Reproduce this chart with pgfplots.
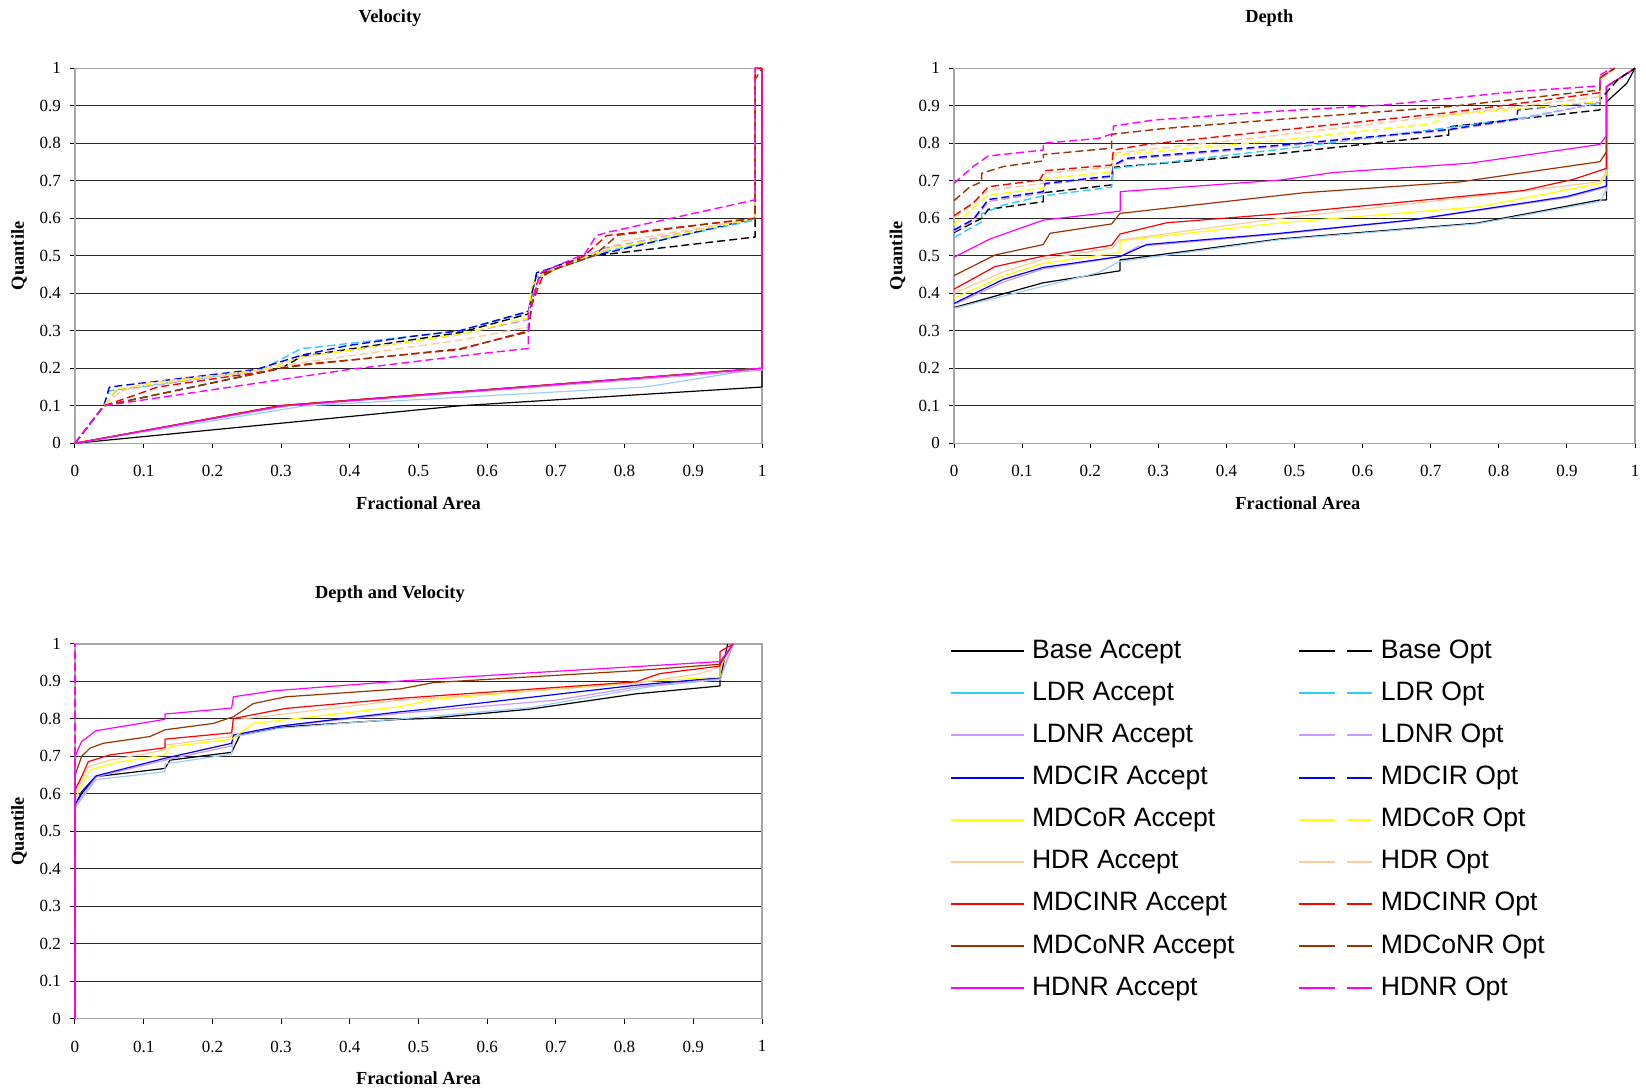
\documentclass[border=0pt]{standalone}
\usepackage{pgfplots}
\pgfplotsset{compat=1.18}
\usepackage{fontspec}
\setmainfont{Liberation Serif}
\newfontfamily\legfont{Liberation Sans}
\definecolor{cBase}{RGB}{0,0,0}
\definecolor{cLDR}{RGB}{51,204,255}
\definecolor{cLDRa}{RGB}{153,204,255}
\definecolor{cLDNR}{RGB}{204,153,255}
\definecolor{cMDCIR}{RGB}{0,0,255}
\definecolor{cMDCoR}{RGB}{255,255,0}
\definecolor{cHDR}{RGB}{255,204,153}
\definecolor{cMDCINR}{RGB}{255,0,0}
\definecolor{cMDCoNR}{RGB}{153,51,0}
\definecolor{cHDNR}{RGB}{255,0,255}
\pgfplotsset{
  qaxis/.style={scale only axis, xmin=0, xmax=1, ymin=0, ymax=1, clip=false,
    xtick={0,0.1,0.2,0.3,0.4,0.5,0.6,0.7,0.8,0.9,1},
    ytick={0,0.1,0.2,0.3,0.4,0.5,0.6,0.7,0.8,0.9,1},
    axis x line*=bottom, axis y line*=left,
    axis line style={-, black, line width=0.6pt},
    ymajorgrids, grid style={black!85, line width=0.5pt},
    tick align=outside, major tick length=2.5pt,
    tick style={black, line width=0.5pt},
    /pgf/number format/fixed, /pgf/number format/precision=1,
    /pgf/number format/assume math mode=true,
    ticklabel style={font=\fontsize{8.5}{10}\selectfont},
    xticklabel style={yshift=-5pt},
    yticklabel style={xshift=-1pt},
    title style={font=\bfseries\fontsize{9.2}{11}\selectfont, anchor=center, yshift=-6pt},
    xlabel style={font=\bfseries\fontsize{9.2}{11}\selectfont, at={(axis description cs:0.5,-0.1587)}, anchor=center},
    ylabel style={font=\bfseries\fontsize{9.2}{11}\selectfont, at={(axis description cs:-0.0815,0.5)}, anchor=center},
    xlabel={Fractional Area}, ylabel={Quantile},
  },
  acc/.style={line width=0.6pt, line join=round},
  opt/.style={line width=0.7pt, dash pattern=on 4pt off 2pt, line join=round},
}
\begin{document}
\begin{tikzpicture}
\useasboundingbox (0,0) rectangle (823pt,545.5pt);
% ---------------- Velocity ----------------
\begin{axis}[qaxis, at={(37.5pt,323.85pt)}, anchor=south west, width=343.5pt, height=187.5pt,
  title={Velocity}, title style={at={(axis description cs:0.4585,1.135)}}]
\draw[gray!70, line width=0.6pt] (rel axis cs:0,0) rectangle (rel axis cs:1,1);
% Accept
\addplot[acc, cBase] coordinates {(0,0) (0.56,0.10) (1,0.15) (1,0.2) (1,1)};
\addplot[acc, cLDRa] coordinates {(0,0) (0.335,0.10) (0.83,0.15) (1,0.2) (1,1)};
\addplot[acc, cLDNR] coordinates {(0,0) (0.31,0.10) (1,0.195) (1,1)};
\addplot[acc, cMDCIR] coordinates {(0,0) (0.30,0.10) (1,0.2) (1,1)};
\addplot[acc, cMDCoR] coordinates {(0,0) (0.30,0.10) (1,0.2) (1,1)};
\addplot[acc, cHDR] coordinates {(0,0) (0.30,0.10) (1,0.2) (1,1)};
\addplot[acc, cMDCINR] coordinates {(0,0) (0.30,0.101) (1,0.2) (1,1)};
\addplot[acc, cMDCoNR] coordinates {(0,0) (0.30,0.10) (1,0.2) (1,1)};
\addplot[acc, cHDNR] coordinates {(0,0) (0.30,0.099) (1,0.2) (1,1)};
% Opt
\addplot[opt, cBase] coordinates {(0,0) (0.042,0.1) (0.30,0.2) (0.33,0.232) (0.56,0.295) (0.66,0.345) (0.665,0.40) (0.672,0.45) (0.70,0.465) (0.755,0.50) (0.99,0.55) (0.99,1) (1,1)};
\addplot[opt, cLDR] coordinates {(0,0) (0.042,0.1) (0.05,0.14) (0.27,0.195) (0.33,0.253) (0.35,0.256) (0.56,0.30) (0.66,0.35) (0.67,0.44) (0.70,0.465) (0.755,0.50) (0.78,0.515) (0.99,0.595) (0.99,1) (1,1)};
\addplot[opt, cLDNR] coordinates {(0,0) (0.042,0.1) (0.06,0.14) (0.27,0.195) (0.33,0.23) (0.56,0.29) (0.66,0.33) (0.665,0.42) (0.68,0.45) (0.72,0.48) (0.77,0.52) (0.99,0.6) (0.99,1) (1,1)};
\addplot[opt, cMDCIR] coordinates {(0,0) (0.042,0.1) (0.05,0.15) (0.264,0.197) (0.33,0.235) (0.395,0.26) (0.49,0.285) (0.56,0.30) (0.66,0.352) (0.665,0.40) (0.672,0.455) (0.69,0.465) (0.716,0.483) (0.755,0.50) (0.99,0.60) (0.99,1) (1,1)};
\addplot[opt, cMDCoR] coordinates {(0,0) (0.042,0.1) (0.06,0.145) (0.27,0.195) (0.33,0.23) (0.56,0.29) (0.66,0.335) (0.665,0.42) (0.68,0.45) (0.72,0.48) (0.77,0.515) (0.99,0.6) (0.99,1) (1,1)};
\addplot[opt, cHDR] coordinates {(0,0) (0.042,0.1) (0.065,0.137) (0.10,0.16) (0.27,0.195) (0.33,0.215) (0.56,0.275) (0.66,0.31) (0.665,0.38) (0.675,0.44) (0.70,0.465) (0.755,0.50) (0.80,0.54) (0.99,0.6) (0.99,1) (1,1)};
\addplot[opt, cMDCINR] coordinates {(0,0) (0.042,0.1) (0.09,0.13) (0.12,0.15) (0.27,0.19) (0.30,0.2) (0.33,0.21) (0.56,0.25) (0.66,0.30) (0.665,0.37) (0.682,0.452) (0.70,0.465) (0.741,0.50) (0.774,0.554) (0.99,0.6) (0.99,1) (1,1)};
\addplot[opt, cMDCoNR] coordinates {(0,0) (0.042,0.1) (0.30,0.2) (0.34,0.21) (0.56,0.252) (0.66,0.297) (0.665,0.37) (0.675,0.44) (0.70,0.465) (0.755,0.50) (0.79,0.555) (0.99,0.60) (0.99,0.97) (1,1)};
\addplot[opt, cHDNR] coordinates {(0,0) (0.042,0.1) (0.40,0.197) (0.59,0.239) (0.66,0.253) (0.66,0.346) (0.672,0.425) (0.679,0.456) (0.742,0.505) (0.759,0.554) (0.776,0.563) (0.99,0.649) (0.99,1) (1,1)};
\end{axis}
% ---------------- Depth ----------------
\begin{axis}[qaxis, at={(477pt,323.85pt)}, anchor=south west, width=340.5pt, height=187.5pt,
  title={Depth}, title style={at={(axis description cs:0.463,1.135)}},
  xlabel style={at={(axis description cs:0.505,-0.1587)}},
  ylabel style={at={(axis description cs:-0.083,0.5)}}]
\draw[gray!70, line width=0.6pt] (rel axis cs:0,0) rectangle (rel axis cs:1,1);
% Accept
\addplot[acc, cBase] coordinates {(0,0.362) (0.131,0.428) (0.2437,0.46) (0.2437,0.489) (0.479,0.545) (0.7676,0.587) (0.9486,0.649) (0.958,0.649) (0.958,0.91) (0.988,0.96) (1,1)};
\addplot[acc, cLDRa] coordinates {(0,0.36) (0.2119,0.455) (0.2437,0.485) (0.479,0.543) (0.7676,0.585) (0.9486,0.645) (0.958,0.675) (0.958,0.951) (1,1)};
\addplot[acc, cLDNR] coordinates {(0,0.37) (0.0724,0.43) (0.131,0.465) (0.2437,0.497) (0.27,0.525) (0.479,0.558) (0.67,0.594) (0.8997,0.655) (0.958,0.683) (0.958,0.951) (1,1)};
\addplot[acc, cMDCIR] coordinates {(0,0.373) (0.0724,0.437) (0.131,0.469) (0.2437,0.498) (0.283,0.53) (0.479,0.56) (0.67,0.595) (0.8997,0.658) (0.958,0.686) (0.958,0.951) (1,1)};
\addplot[acc, cMDCoR] coordinates {(0,0.387) (0.0724,0.446) (0.131,0.48) (0.2437,0.509) (0.2437,0.54) (0.479,0.588) (0.772,0.631) (0.9486,0.693) (0.958,0.716) (0.958,0.951) (1,1)};
\addplot[acc, cHDR] coordinates {(0,0.40) (0.0724,0.457) (0.131,0.491) (0.2315,0.52) (0.2437,0.542) (0.479,0.60) (0.843,0.674) (0.9486,0.698) (0.958,0.724) (0.958,0.951) (1,1)};
\addplot[acc, cMDCINR] coordinates {(0,0.411) (0.06,0.471) (0.131,0.499) (0.2315,0.528) (0.2437,0.558) (0.3123,0.588) (0.479,0.612) (0.836,0.674) (0.9097,0.704) (0.958,0.733) (0.958,0.951) (1,1)};
\addplot[acc, cMDCoNR] coordinates {(0,0.447) (0.06,0.502) (0.131,0.53) (0.141,0.56) (0.2315,0.585) (0.2437,0.613) (0.513,0.668) (0.743,0.697) (0.9486,0.751) (0.958,0.777) (0.958,0.951) (1,1)};
\addplot[acc, cHDNR] coordinates {(0,0.496) (0.053,0.545) (0.131,0.595) (0.244,0.619) (0.244,0.671) (0.479,0.702) (0.557,0.722) (0.758,0.747) (0.9486,0.797) (0.958,0.82) (0.958,0.951) (1,1)};
% Opt
\addplot[opt, cBase] coordinates {(0,0.562) (0.0406,0.60) (0.0504,0.624) (0.131,0.644) (0.131,0.668) (0.2315,0.689) (0.234,0.736) (0.479,0.773) (0.7265,0.822) (0.7265,0.844) (0.9486,0.889) (0.9486,0.916) (0.975,0.97) (1,1)};
\addplot[opt, cLDR] coordinates {(0,0.549) (0.0406,0.59) (0.0406,0.612) (0.0724,0.635) (0.131,0.66) (0.2315,0.683) (0.234,0.733) (0.479,0.784) (0.7185,0.84) (0.826,0.865) (0.9486,0.907) (0.9486,0.97) (0.97,1)};
\addplot[opt, cLDNR] coordinates {(0,0.565) (0.0284,0.593) (0.0504,0.645) (0.131,0.667) (0.1336,0.69) (0.2315,0.71) (0.234,0.738) (0.2535,0.757) (0.479,0.792) (0.728,0.835) (0.826,0.862) (0.9486,0.909) (0.9486,0.97) (0.97,1)};
\addplot[opt, cMDCIR] coordinates {(0,0.569) (0.0284,0.597) (0.0504,0.65) (0.131,0.671) (0.1336,0.693) (0.2315,0.713) (0.234,0.742) (0.2535,0.76) (0.479,0.795) (0.728,0.837) (0.826,0.865) (0.828,0.889) (0.9486,0.911) (0.9486,0.97) (0.97,1)};
\addplot[opt, cMDCoR] coordinates {(0,0.583) (0.0504,0.662) (0.131,0.68) (0.1336,0.706) (0.234,0.724) (0.234,0.768) (0.479,0.808) (0.704,0.853) (0.723,0.875) (0.9486,0.911) (0.9486,0.97) (0.97,1)};
\addplot[opt, cHDR] coordinates {(0,0.60) (0.0504,0.675) (0.131,0.693) (0.1336,0.72) (0.2315,0.736) (0.234,0.773) (0.479,0.822) (0.9486,0.924) (0.9486,0.97) (0.97,1)};
\addplot[opt, cMDCINR] coordinates {(0,0.607) (0.028,0.64) (0.0504,0.684) (0.126,0.702) (0.1336,0.727) (0.2315,0.742) (0.234,0.782) (0.283,0.797) (0.479,0.835) (0.728,0.882) (0.9486,0.935) (0.9486,0.975) (0.97,1)};
\addplot[opt, cMDCoNR] coordinates {(0,0.647) (0.0235,0.684) (0.0406,0.697) (0.0406,0.72) (0.0724,0.738) (0.131,0.753) (0.131,0.77) (0.2315,0.787) (0.2315,0.824) (0.3123,0.84) (0.479,0.864) (0.728,0.898) (0.9486,0.942) (0.9486,0.975) (0.97,1)};
\addplot[opt, cHDNR] coordinates {(0,0.693) (0.028,0.738) (0.0504,0.766) (0.131,0.782) (0.131,0.80) (0.2119,0.813) (0.234,0.826) (0.234,0.846) (0.293,0.862) (0.479,0.886) (0.6304,0.902) (0.826,0.938) (0.9486,0.953) (0.9486,0.982) (0.965,1)};
\end{axis}
% ---------------- Depth and Velocity ----------------
\begin{axis}[qaxis, at={(37.5pt,36.15pt)}, anchor=south west, width=343.5pt, height=187.35pt,
  title={Depth and Velocity}, title style={at={(axis description cs:0.4585,1.134)}},
  xlabel style={at={(axis description cs:0.5,-0.158)}}]
\draw[gray!70, line width=0.6pt] (rel axis cs:0,0) rectangle (rel axis cs:1,1);
\addplot[acc, cBase] coordinates {(0,0) (0,0.566) (0.0097,0.601) (0.0306,0.646) (0.131,0.668) (0.1383,0.69) (0.228,0.711) (0.2402,0.757) (0.298,0.778) (0.473,0.799) (0.512,0.801) (0.662,0.826) (0.817,0.867) (0.939,0.888) (0.939,0.904) (0.95,1)};
\addplot[acc, cLDRa] coordinates {(0,0) (0,0.563) (0.0306,0.638) (0.131,0.659) (0.131,0.68) (0.228,0.706) (0.2305,0.752) (0.298,0.775) (0.473,0.80) (0.662,0.83) (0.843,0.888) (0.939,0.905) (0.958,1)};
\addplot[acc, cLDNR] coordinates {(0,0) (0,0.568) (0.0306,0.645) (0.131,0.69) (0.228,0.728) (0.2305,0.755) (0.298,0.78) (0.473,0.815) (0.70,0.85) (0.817,0.885) (0.939,0.908) (0.958,1)};
\addplot[acc, cMDCIR] coordinates {(0,0) (0,0.57) (0.0097,0.606) (0.0306,0.648) (0.131,0.695) (0.228,0.735) (0.2305,0.757) (0.298,0.781) (0.473,0.819) (0.512,0.826) (0.817,0.89) (0.939,0.91) (0.939,0.95) (0.958,1)};
\addplot[acc, cMDCoR] coordinates {(0,0) (0,0.587) (0.0218,0.664) (0.0606,0.684) (0.131,0.704) (0.1383,0.726) (0.228,0.746) (0.2596,0.788) (0.473,0.833) (0.5216,0.852) (0.817,0.899) (0.939,0.912) (0.939,0.939) (0.958,1)};
\addplot[acc, cHDR] coordinates {(0,0) (0,0.60) (0.0194,0.673) (0.051,0.69) (0.131,0.717) (0.131,0.73) (0.228,0.753) (0.2305,0.797) (0.473,0.85) (0.817,0.895) (0.9097,0.921) (0.939,0.939) (0.958,1)};
\addplot[acc, cMDCINR] coordinates {(0,0) (0,0.61) (0.0097,0.646) (0.0194,0.686) (0.0509,0.704) (0.131,0.723) (0.131,0.746) (0.228,0.763) (0.2305,0.801) (0.3065,0.828) (0.473,0.855) (0.817,0.899) (0.851,0.921) (0.939,0.941) (0.939,0.98) (0.958,1)};
\addplot[acc, cMDCoNR] coordinates {(0,0) (0,0.65) (0.0097,0.70) (0.0218,0.722) (0.0412,0.735) (0.109,0.753) (0.131,0.771) (0.2013,0.788) (0.2305,0.806) (0.2596,0.841) (0.3065,0.859) (0.473,0.880) (0.5216,0.897) (0.817,0.929) (0.939,0.946) (0.958,1)};
\addplot[acc, cHDNR] coordinates {(0,0) (0,0.70) (0.0097,0.74) (0.0306,0.7685) (0.131,0.799) (0.131,0.813) (0.228,0.829) (0.2305,0.859) (0.2887,0.875) (0.473,0.901) (0.662,0.923) (0.939,0.953) (0.958,1)};
\addplot[opt, cHDNR] coordinates {(0,0) (0,1)};
\end{axis}
% ---------------- Legend ----------------
\begin{axis}[at={(0pt,0pt)}, anchor=south west, scale only axis, width=100pt, height=100pt,
  hide axis, xmin=0, xmax=1, ymin=0, ymax=1,
  legend columns=2,
  legend image code/.code={\draw[#1] (0pt,0pt) -- (36.3pt,0pt);},
  legend style={at={(axis description cs:4.75,2.286)}, anchor=north west, draw=none, fill=none,
    inner sep=0pt, row sep=4.06pt, column sep=0pt,
    font=\legfont\fontsize{13.3}{15}\selectfont,
    nodes={inner sep=2pt, text height=10pt, text depth=3pt}},
  legend cell align=left]
\addlegendimage{black, line width=1pt}
\addlegendentry{\makebox[132.6pt][l]{\hspace*{1.5pt}Base Accept}}
\addlegendimage{black, line width=1pt, dash pattern=on 17.9pt off 6.2pt}
\addlegendentry{\hspace*{2pt}Base Opt}
\addlegendimage{cLDR, line width=1pt}
\addlegendentry{\makebox[132.6pt][l]{\hspace*{1.5pt}LDR Accept}}
\addlegendimage{cLDR, line width=1pt, dash pattern=on 17.9pt off 6.2pt}
\addlegendentry{\hspace*{2pt}LDR Opt}
\addlegendimage{cLDNR, line width=1pt}
\addlegendentry{\makebox[132.6pt][l]{\hspace*{1.5pt}LDNR Accept}}
\addlegendimage{cLDNR, line width=1pt, dash pattern=on 17.9pt off 6.2pt}
\addlegendentry{\hspace*{2pt}LDNR Opt}
\addlegendimage{cMDCIR, line width=1pt}
\addlegendentry{\makebox[132.6pt][l]{\hspace*{1.5pt}MDCIR Accept}}
\addlegendimage{cMDCIR, line width=1pt, dash pattern=on 17.9pt off 6.2pt}
\addlegendentry{\hspace*{2pt}MDCIR Opt}
\addlegendimage{cMDCoR, line width=1pt}
\addlegendentry{\makebox[132.6pt][l]{\hspace*{1.5pt}MDCoR Accept}}
\addlegendimage{cMDCoR, line width=1pt, dash pattern=on 17.9pt off 6.2pt}
\addlegendentry{\hspace*{2pt}MDCoR Opt}
\addlegendimage{cHDR, line width=1pt}
\addlegendentry{\makebox[132.6pt][l]{\hspace*{1.5pt}HDR Accept}}
\addlegendimage{cHDR, line width=1pt, dash pattern=on 17.9pt off 6.2pt}
\addlegendentry{\hspace*{2pt}HDR Opt}
\addlegendimage{cMDCINR, line width=1pt}
\addlegendentry{\makebox[132.6pt][l]{\hspace*{1.5pt}MDCINR Accept}}
\addlegendimage{cMDCINR, line width=1pt, dash pattern=on 17.9pt off 6.2pt}
\addlegendentry{\hspace*{2pt}MDCINR Opt}
\addlegendimage{cMDCoNR, line width=1pt}
\addlegendentry{\makebox[132.6pt][l]{\hspace*{1.5pt}MDCoNR Accept}}
\addlegendimage{cMDCoNR, line width=1pt, dash pattern=on 17.9pt off 6.2pt}
\addlegendentry{\hspace*{2pt}MDCoNR Opt}
\addlegendimage{cHDNR, line width=1pt}
\addlegendentry{\makebox[132.6pt][l]{\hspace*{1.5pt}HDNR Accept}}
\addlegendimage{cHDNR, line width=1pt, dash pattern=on 17.9pt off 6.2pt}
\addlegendentry{\hspace*{2pt}HDNR Opt}
\end{axis}
\end{tikzpicture}
\end{document}
